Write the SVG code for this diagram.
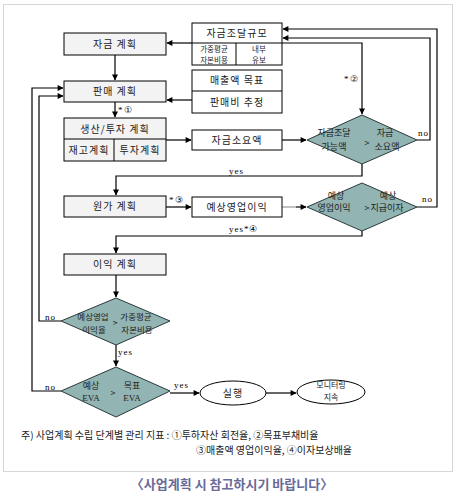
<svg xmlns="http://www.w3.org/2000/svg" width="457" height="498" viewBox="0 0 457 498">
<style>
.bx{fill:#f3f3f3;stroke:#000;stroke-width:1}
.wb{fill:#fff;stroke:#000;stroke-width:1}
.dm{fill:#92b4b3;stroke:#2a3a3a;stroke-width:1}
.ln{fill:none;stroke:#000;stroke-width:1.2}
.t{font-family:"Noto Sans CJK KR","Noto Sans",sans-serif;font-size:10px;fill:#222;text-anchor:middle;letter-spacing:1px}
.s{font-family:"Noto Sans CJK KR","Noto Sans",sans-serif;font-size:9px;fill:#222;text-anchor:middle}
.c{font-family:"Noto Sans CJK KR","Noto Sans",sans-serif;font-size:8.5px;fill:#222;text-anchor:middle}
.x{font-family:"Noto Sans CJK KR","Noto Sans",sans-serif;font-size:7.5px;fill:#222;text-anchor:middle}
.l{font-family:"Liberation Serif",serif;font-size:9px;fill:#000;letter-spacing:1px}
.n{font-family:"Noto Sans CJK KR","Noto Sans",sans-serif;font-size:10px;fill:#222}
.e{font-family:"Liberation Serif",serif}
</style>
<defs>
<marker id="a" viewBox="0 0 10 10" refX="9" refY="5" markerWidth="7" markerHeight="6" markerUnits="userSpaceOnUse" orient="auto"><path d="M0,0L10,5L0,10z" fill="#000"/></marker>
</defs>
<rect x="3.5" y="4.5" width="449" height="467" fill="#fff" stroke="#d6d6d6" stroke-width="1"/>

<g id="connectors">
<path class="ln" d="M115,55V80" marker-end="url(#a)"/>
<path class="ln" d="M115,102V117" marker-end="url(#a)"/>
<path class="ln" d="M192,43H167" marker-end="url(#a)"/>
<path class="ln" d="M192,100H167" marker-end="url(#a)"/>
<path class="ln" d="M61,391H32V88H63" marker-end="url(#a)"/>
<path class="ln" d="M61,321H39V96H63" marker-end="url(#a)"/>
<path class="ln" d="M166,140H191" marker-end="url(#a)"/>
<path class="ln" d="M282,140H306" marker-end="url(#a)"/>
<path class="ln" d="M282,43H362V114" marker-end="url(#a)"/>
<path class="ln" d="M417,140H430V38H283" marker-end="url(#a)"/>
<path class="ln" d="M417,207H437V29H283" marker-end="url(#a)"/>
<path class="ln" d="M362,164V176H116V195" marker-end="url(#a)"/>
<path class="ln" d="M166,207H191" marker-end="url(#a)"/>
<path d="M282,207H296" stroke="#999" stroke-width="1.2"/>
<path class="ln" d="M296,207H306" marker-end="url(#a)"/>
<path class="ln" d="M362,231V236H116V253" marker-end="url(#a)"/>
<path class="ln" d="M116,275V297" marker-end="url(#a)"/>
<path class="ln" d="M116,345V366" marker-end="url(#a)"/>
<path class="ln" d="M170,393H199" marker-end="url(#a)"/>
<path class="ln" d="M266,393H296" marker-end="url(#a)"/>
<text class="l" x="118" y="113">*①</text>
<text class="l" x="344" y="82">*②</text>
<text class="l" x="169" y="203">*③</text>
<text class="l" x="229" y="174">yes</text>
<text class="l" x="229" y="232">yes*④</text>
<text class="l" x="418" y="136">no</text>
<text class="l" x="422" y="202">no</text>
<text class="l" x="45" y="320">no</text>
<text class="l" x="118" y="355">yes</text>
<text class="l" x="45" y="390">no</text>
<text class="l" x="174" y="388">yes</text>
</g>

<g id="n-fund-plan"><rect class="bx" x="64" y="33" width="102" height="22"/><text class="t" x="115" y="48">자금 계획</text></g>
<g id="n-sales-plan"><rect class="bx" x="64" y="81" width="102" height="21"/><text class="t" x="115" y="95">판매 계획</text></g>
<g id="n-prod-plan">
<rect class="bx" x="64" y="118" width="102" height="43"/>
<line x1="64" y1="139" x2="166" y2="139" stroke="#000"/>
<line x1="114" y1="139" x2="114" y2="161" stroke="#000"/>
<text class="t" x="115" y="133">생산/투자 계획</text>
<text class="t" x="89" y="154">재고계획</text>
<text class="t" x="140" y="154">투자계획</text>
</g>
<g id="n-fund-scale">
<rect class="wb" x="192" y="23" width="90" height="42"/>
<line x1="192" y1="43" x2="282" y2="43" stroke="#000"/>
<line x1="236" y1="43" x2="236" y2="65" stroke="#000"/>
<text class="t" x="237" y="37">자금조달규모</text>
<text class="x"><tspan x="214" y="52">가중평균</tspan><tspan x="214" y="63">자본비용</tspan></text>
<text class="x"><tspan x="259" y="52">내부</tspan><tspan x="259" y="63">유보</tspan></text>
</g>
<g id="n-sales-target">
<rect class="wb" x="192" y="70" width="90" height="43"/>
<line x1="192" y1="91" x2="282" y2="91" stroke="#000"/>
<text class="t" x="237" y="84">매출액 목표</text>
<text class="t" x="237" y="106">판매비 추정</text>
</g>
<g id="n-fund-need"><rect class="wb" x="192" y="130" width="90" height="20"/><text class="t" x="237" y="144">자금소요액</text></g>
<g id="d-fund">
<polygon class="dm" points="307,140 362,115 417,140 362,164"/>
<text class="s"><tspan x="334" y="136">자금조달</tspan><tspan x="334" y="150">가능액</tspan></text>
<text class="s" x="367" y="146">&gt;</text>
<text class="s"><tspan x="385" y="136">자금</tspan><tspan x="387" y="150">소요액</tspan></text>
</g>
<g id="n-cost-plan"><rect class="bx" x="64" y="196" width="102" height="21"/><text class="t" x="115" y="210">원가 계획</text></g>
<g id="n-op-profit"><rect class="wb" x="192" y="197" width="90" height="20"/><text class="t" x="237" y="211">예상영업이익</text></g>
<g id="d-interest">
<polygon class="dm" points="307,207 362,183 417,207 362,231"/>
<text class="s"><tspan x="336" y="199">예상</tspan><tspan x="334" y="211">영업이익</tspan></text>
<text class="s" x="367" y="211">&gt;</text>
<text class="s"><tspan x="388" y="199">예상</tspan><tspan x="387" y="211">지급이자</tspan></text>
</g>
<g id="n-profit-plan"><rect class="bx" x="64" y="254" width="102" height="21"/><text class="t" x="115" y="268">이익 계획</text></g>
<g id="d-margin">
<polygon class="dm" points="61,321 116,298 170,321 116,345"/>
<text class="c"><tspan x="93" y="320">예상영업</tspan><tspan x="94" y="333">이익율</tspan></text>
<text class="c" x="115" y="326">&gt;</text>
<text class="c"><tspan x="136" y="320">가중평균</tspan><tspan x="137" y="333">자본비용</tspan></text>
</g>
<g id="d-eva">
<polygon class="dm" points="61,391 116,367 170,391 116,417"/>
<text class="s"><tspan x="91" y="389">예상</tspan><tspan class="e" x="91" y="401">EVA</tspan></text>
<text class="s" x="113" y="396">&gt;</text>
<text class="s"><tspan x="132" y="389">목표</tspan><tspan class="e" x="132" y="401">EVA</tspan></text>
</g>
<g id="n-exec"><ellipse class="wb" cx="233" cy="393" rx="33" ry="12"/><text class="t" x="233" y="397">실행</text></g>
<g id="n-monitor"><ellipse class="wb" cx="331" cy="392" rx="34" ry="12"/><text class="x" style="font-size:8px"><tspan x="331" y="388">모니터링</tspan><tspan x="331" y="400">지속</tspan></text></g>

<g id="notes">
<text class="n" x="21" y="439">주) 사업계획 수립 단계별 관리 지표 : ①투하자산 회전율, ②목표부채비율</text>
<text class="n" x="196" y="454">③매출액 영업이익율, ④이자보상배율</text>
<text x="232" y="489" text-anchor="middle" style="font-family:'Noto Sans CJK KR',sans-serif;font-size:13px;font-weight:bold;fill:#6a6a98">〈사업계획 시 참고하시기 바랍니다〉</text>
</g>
</svg>
